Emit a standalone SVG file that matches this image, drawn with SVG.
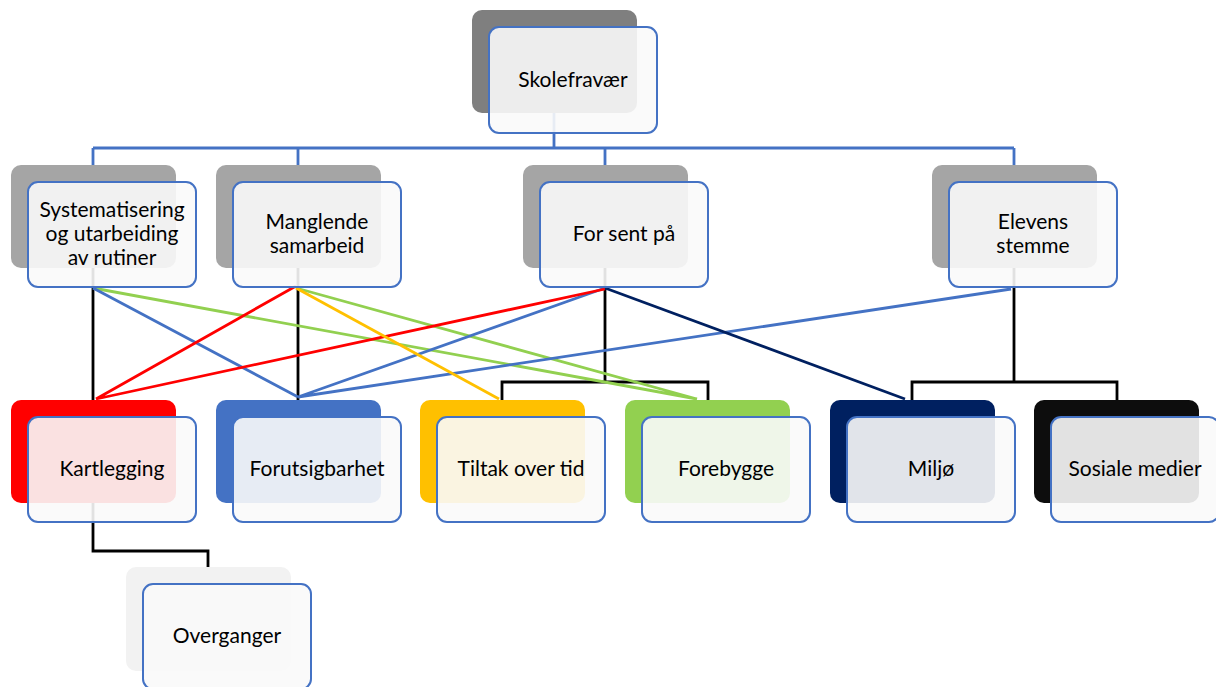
<svg xmlns="http://www.w3.org/2000/svg" width="1216" height="687" viewBox="0 0 1216 687">
<style>
.back{stroke:none}
.front{fill:#fafafa;fill-opacity:0.9;stroke:#4472c4;stroke-width:2}
.t{font-family:Lato,"Liberation Sans",sans-serif;font-size:21px;fill:#000;text-anchor:middle}
.c{fill:none;stroke-width:2.8}
</style>
<rect width="1216" height="687" fill="#fff"/>
<g id="connectors">
<path class="c" stroke="#4472c4" d="M554,113 V148 M93,148 H1014 M93,148 V165 M298,148 V165 M605,148 V165 M1014,148 V165"/>
<path class="c" stroke="#000" d="M93,268 V400 M298,268 V400 M605,268 V382 M502,400 V382 H708 V400 M1014,268 V382 M912,400 V382 H1117 V400 M93,503 V551 H208 V567"/>
<path class="c" stroke="#92d050" d="M93,288 L697,399 M296,288 L697,399"/>
<path class="c" stroke="#4472c4" d="M93,288 L298,397 M605,288 L298,397 M1011,289 L298,397"/>
<path class="c" stroke="#ff0000" d="M296,286 L96,399 M605,289 L96,399"/>
<path class="c" stroke="#ffc000" d="M296,288 L499,399"/>
<path class="c" stroke="#002060" d="M605,288 L905,399"/>
</g>
<g id="n-skolefravaer">
<rect class="back" x="472" y="10" width="165" height="103" rx="10" fill="#7f7f7f"/>
<rect class="front" x="489" y="27" width="168" height="106" rx="10"/>
<text class="t" x="573" y="87">Skolefravær</text>
</g>
<g id="n-systematisering">
<rect class="back" x="11" y="165" width="165" height="103" rx="10" fill="#a5a5a5"/>
<rect class="front" x="28" y="182" width="168" height="105" rx="10"/>
<text class="t" x="112" y="217">Systematisering</text>
<text class="t" x="112" y="241">og utarbeiding</text>
<text class="t" x="112" y="265">av rutiner</text>
</g>
<g id="n-manglende">
<rect class="back" x="216" y="165" width="165" height="103" rx="10" fill="#a5a5a5"/>
<rect class="front" x="233" y="182" width="168" height="105" rx="10"/>
<text class="t" x="317" y="229">Manglende</text>
<text class="t" x="317" y="253">samarbeid</text>
</g>
<g id="n-forsent">
<rect class="back" x="523" y="165" width="165" height="103" rx="10" fill="#a5a5a5"/>
<rect class="front" x="540" y="182" width="168" height="105" rx="10"/>
<text class="t" x="624" y="241">For sent på</text>
</g>
<g id="n-elevens">
<rect class="back" x="932" y="165" width="165" height="103" rx="10" fill="#a5a5a5"/>
<rect class="front" x="949" y="182" width="168" height="105" rx="10"/>
<text class="t" x="1033" y="229">Elevens</text>
<text class="t" x="1033" y="253">stemme</text>
</g>
<g id="n-kartlegging">
<rect class="back" x="11" y="400" width="165" height="103" rx="10" fill="#ff0000"/>
<rect class="front" x="28" y="417" width="168" height="105" rx="10"/>
<text class="t" x="112" y="476">Kartlegging</text>
</g>
<g id="n-forutsigbarhet">
<rect class="back" x="216" y="400" width="165" height="103" rx="10" fill="#4472c4"/>
<rect class="front" x="233" y="417" width="168" height="105" rx="10"/>
<text class="t" x="317" y="476">Forutsigbarhet</text>
</g>
<g id="n-tiltak">
<rect class="back" x="420" y="400" width="165" height="103" rx="10" fill="#ffc000"/>
<rect class="front" x="437" y="417" width="168" height="105" rx="10"/>
<text class="t" x="521" y="476">Tiltak over tid</text>
</g>
<g id="n-forebygge">
<rect class="back" x="625" y="400" width="165" height="103" rx="10" fill="#92d050"/>
<rect class="front" x="642" y="417" width="168" height="105" rx="10"/>
<text class="t" x="726" y="476">Forebygge</text>
</g>
<g id="n-miljo">
<rect class="back" x="830" y="400" width="165" height="103" rx="10" fill="#002060"/>
<rect class="front" x="847" y="417" width="168" height="105" rx="10"/>
<text class="t" x="931" y="476">Miljø</text>
</g>
<g id="n-sosiale">
<rect class="back" x="1034" y="400" width="165" height="103" rx="10" fill="#0d0d0d"/>
<rect class="front" x="1051" y="417" width="168" height="105" rx="10"/>
<text class="t" x="1135" y="476">Sosiale medier</text>
</g>
<g id="n-overganger">
<rect class="back" x="126" y="567" width="165" height="104" rx="10" fill="#f2f2f2"/>
<rect class="front" x="143" y="584" width="168" height="105" rx="10"/>
<text class="t" x="227" y="643">Overganger</text>
</g>
</svg>
